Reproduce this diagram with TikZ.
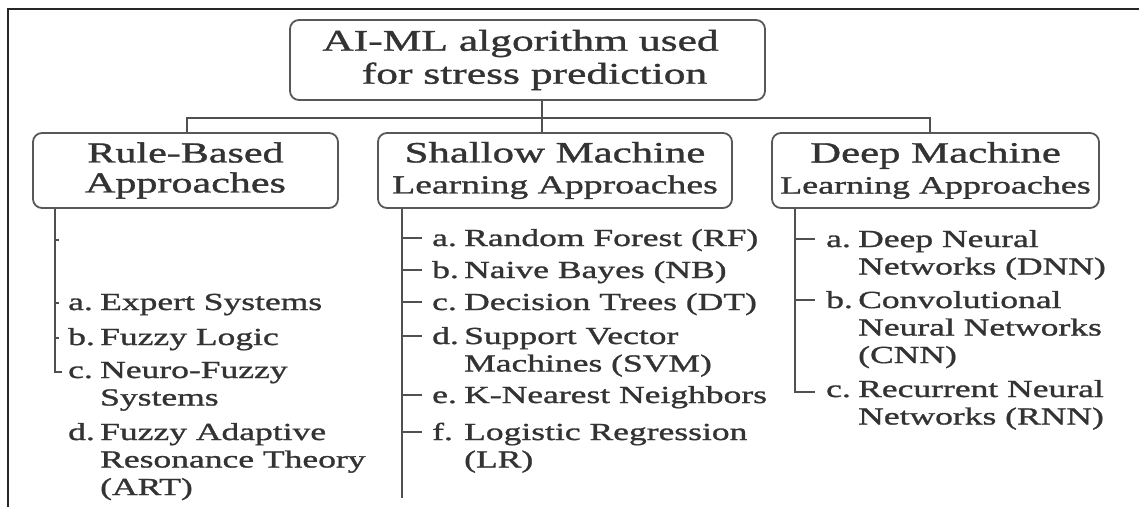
\documentclass[tikz,border=0pt]{standalone}
\usepackage{fontspec}
\setmainfont{Liberation Serif}[FakeStretch=1.45,FakeBold=1.2]
\usepackage{array}
\definecolor{txt}{HTML}{333333}
\definecolor{boxc}{HTML}{585858}
\definecolor{linec}{HTML}{505050}
\newcommand\lst[2]{\begin{tabular}[t]{@{}p{32pt}@{}l@{}}#1 & #2\end{tabular}}
\begin{document}
\begin{tikzpicture}[x=1pt,y=-1pt,
  box/.style={draw=boxc, line width=1.8pt, rounded corners=9pt, align=center, text=txt, inner sep=0pt},
  conn/.style={draw=linec, line width=2pt},
  tick/.style={draw=linec, line width=1.6pt},
  itm/.style={anchor=base west, inner sep=0pt, text=txt, font=\fontsize{24.5}{27.5}\selectfont},
]
\useasboundingbox (0,0) rectangle (1139,507);
\draw[line width=1.5pt, draw=black!85] (1139,9) -- (8,9) -- (8,507);

% boxes
\node[box, minimum width=475pt, minimum height=80pt, font=\fontsize{30}{33}\selectfont] (top) at (527.5,60) {AI-ML algorithm used\hspace*{14pt}\\\hspace*{14pt}for stress prediction};
\node[box, minimum width=305pt, minimum height=75pt, font=\fontsize{29}{30}\selectfont] (rule) at (185.5,170.5) {Rule-Based\\Approaches};
\node[box, minimum width=354pt, minimum height=75pt, font=\fontsize{29.5}{31}\selectfont] (shallow) at (555,170.5) {Shallow Machine\\{\fontsize{26}{31}\selectfont Learning Approaches}};
\node[box, minimum width=327pt, minimum height=75pt, font=\fontsize{29.5}{31}\selectfont] (deep) at (935.5,170.5) {Deep Machine\\{\fontsize{24.8}{31}\selectfont Learning Approaches}};

% bus
\coordinate (bL) at (187,118);
\coordinate (bM) at (542,118);
\coordinate (bR) at (930,118);
\draw[conn] (bL |- rule.north) -- (bL) -- (bR) -- (bR |- deep.north);
\draw[conn] (top.south -| bM) -- (bM |- shallow.north);

% left list
\node[itm] (l1) at (68,310) {\lst{a.}{Expert Systems}};
\node[itm] (l2) at (68,345) {\lst{b.}{Fuzzy Logic}};
\node[itm] (l3) at (68,378) {\lst{c.}{Neuro-Fuzzy\\ & Systems}};
\node[itm] (l4) at (68,440) {\lst{d.}{Fuzzy Adaptive\\ & Resonance Theory\\ & (ART)}};
\coordinate (sL) at (55,372);
\coordinate (sL0) at (55,240);
\draw[conn] (sL |- rule.south) -- (sL) -- ++(7,0);
\draw[tick] (sL0) -- ++(4,0);
\foreach \n in {l1,l2} \draw[tick] (sL |- \n.base) ++(0,-7) -- ++(4,0);

% middle list
\node[itm] (m1) at (432,246) {\lst{a.}{Random Forest (RF)}};
\node[itm] (m2) at (432,278) {\lst{b.}{Naive Bayes (NB)}};
\node[itm] (m3) at (432,310) {\lst{c.}{Decision Trees (DT)}};
\node[itm] (m4) at (432,344) {\lst{d.}{Support Vector\\ & Machines (SVM)}};
\node[itm] (m5) at (432,403) {\lst{e.}{K-Nearest Neighbors}};
\node[itm] (m6) at (432,440) {\lst{f.}{Logistic Regression\\ & (LR)}};
\coordinate (sM) at (402,498);
\draw[conn] (sM |- shallow.south) -- (sM);
\foreach \n in {m1,m2,m3,m4,m5,m6} \draw[tick] (sM |- \n.base) ++(0,-8) -- ++(20,0);

% right list
\node[itm] (r1) at (826,247) {\lst{a.}{Deep Neural\\ & Networks (DNN)}};
\node[itm] (r2) at (826,308) {\lst{b.}{Convolutional\\ & Neural Networks\\ & (CNN)}};
\node[itm] (r3) at (826,397) {\lst{c.}{Recurrent Neural\\ & Networks (RNN)}};
\coordinate (sR) at (795,392);
\draw[conn] (sR |- deep.south) -- (sR) -- ++(20,0);
\foreach \n in {r1,r2} \draw[tick] (sR |- \n.base) ++(0,-8) -- ++(20,0);
\end{tikzpicture}
\end{document}
